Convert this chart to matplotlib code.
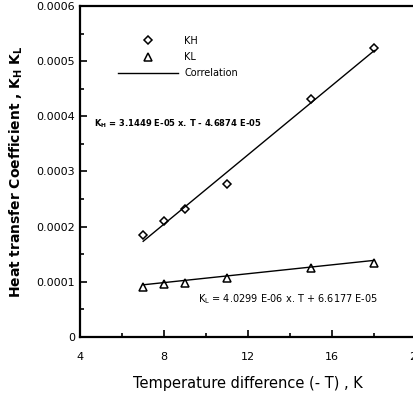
import matplotlib
matplotlib.use("Agg")
from matplotlib import pyplot as plt
from matplotlib.ticker import MultipleLocator, FuncFormatter
import numpy as np

# measured points
dT = [7, 8, 9, 11, 15, 18]
k_h = [0.000185, 0.000210, 0.000231, 0.000278, 0.000431, 0.000524]
k_l = [0.0000912, 0.0000964, 0.0000982, 0.000107, 0.000125, 0.000134]

# correlation coefficients (slope, intercept)
fit_h = (3.1449e-05, -4.6874e-05)
fit_l = (4.0299e-06, 6.6177e-05)

x_ticks = [4, 8, 12, 16, 20]
y_ticks = [0, 0.0001, 0.0002, 0.0003, 0.0004, 0.0005, 0.0006]

fig = plt.figure(figsize=(4.13, 4.01), dpi=100)
ax = fig.add_axes([0.194, 0.160, 0.814, 0.825])

t = np.array([dT[0], dT[-1]])
ax.plot(dT, k_h, linestyle="none", marker="D", markersize=4.3, mfc="white",
        mec="black", mew=1.1, label="KH")
ax.plot(dT, k_l, linestyle="none", marker="^", markersize=5.5, mfc="white",
        mec="black", mew=1.1, label="KL")
ax.plot(t, fit_h[0] * t + fit_h[1], color="black", lw=1.0, label="Correlation")
ax.plot(t, fit_l[0] * t + fit_l[1], color="black", lw=1.0)

ax.set_xlim(4, 20)
ax.set_ylim(0, 0.0006)
ax.set_xticks(x_ticks)
ax.set_yticks(y_ticks)
ax.xaxis.set_minor_locator(MultipleLocator(2))
ax.yaxis.set_minor_locator(MultipleLocator(0.00005))
ax.yaxis.set_major_formatter(FuncFormatter(lambda v, p: "0" if v == 0 else f"{v:.4f}"))
ax.tick_params(which="both", direction="in", labelsize=8, width=1.2, colors="black")
ax.tick_params(which="major", length=5)
ax.tick_params(which="minor", length=3)
ax.tick_params(axis="x", pad=11)
for s in ax.spines.values():
    s.set_linewidth(1.6)

leg = ax.legend(loc="upper left", bbox_to_anchor=(0.098, 0.925), frameon=False,
                borderpad=0, handlelength=6.2, handletextpad=0.6,
                fontsize=7, labelspacing=0.65, numpoints=1)

ax.text(0.04, 0.645, r"$\mathbf{K_H}$ = 3.1449 E-05 x. T - 4.6874 E-05",
        transform=ax.transAxes, fontsize=6, fontweight="bold", va="center")
ax.text(0.35, 0.115, r"K$_{\rm L}$ = 4.0299 E-06 x. T + 6.6177 E-05",
        transform=ax.transAxes, fontsize=7, va="center")

ax.set_xlabel("Temperature difference (- T) , K", fontsize=10.5, labelpad=10)
ax.set_ylabel(r"Heat transfer Coefficient , $\mathbf{K_H}$ $\mathbf{K_L}$",
              fontsize=10, fontweight="bold", labelpad=8)

plt.savefig("out.png", dpi=100)
